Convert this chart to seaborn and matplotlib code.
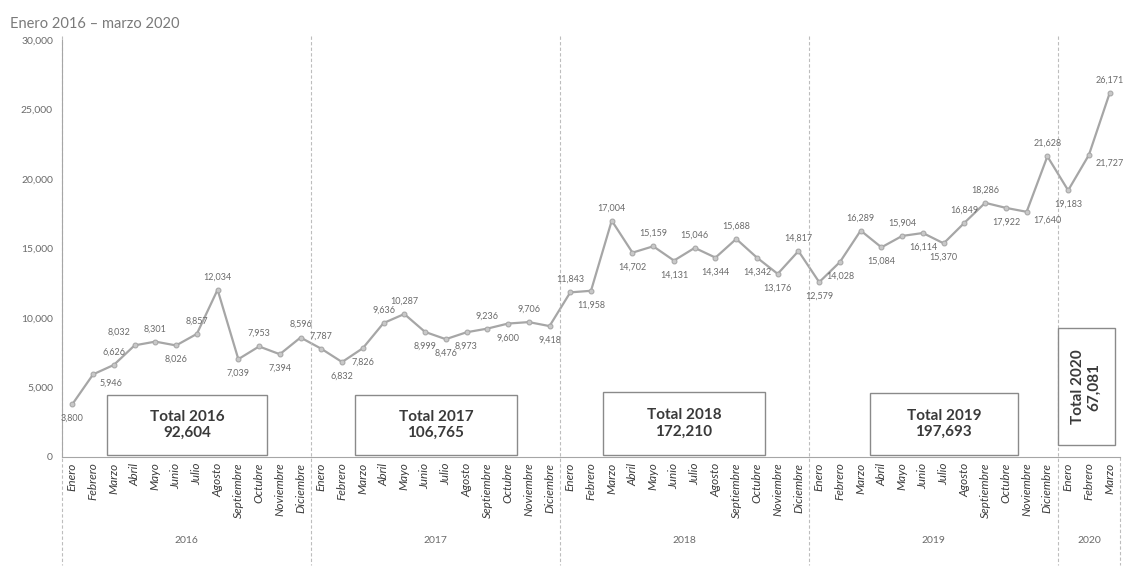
import matplotlib
matplotlib.use('Agg')
import matplotlib.pyplot as plt
import matplotlib.transforms as mtransforms
from matplotlib.patches import Rectangle
from matplotlib.ticker import FuncFormatter
import pandas as pd
import seaborn as sns

# Datos
years = ['2016', '2017', '2018', '2019', '2020']
months = ['Enero', 'Febrero', 'Marzo', 'Abril', 'Mayo', 'Junio', 'Julio',
          'Agosto', 'Septiembre', 'Octubre', 'Noviembre', 'Diciembre']
values_2016 = [3800, 5946, 6626, 8032, 8301, 8026, 8857, 12034, 7039, 7953, 7394, 8596]
values_2017 = [7787, 6832, 7826, 9636, 10287, 8999, 8476, 8973, 9236, 9600, 9706, 9418]
values_2018 = [11843, 11958, 17004, 14702, 15159, 14131, 15046, 14344, 15688, 14342, 13176, 14817]
values_2019 = [12579, 14028, 16289, 15084, 15904, 16114, 15370, 16849, 18286, 17922, 17640, 21628]
values_2020 = [19183, 21727, 26171]
totals = ['92,604', '106,765', '172,210', '197,693', '67,081']

# posicion de etiquetas: a = arriba, b = abajo, r = derecha, l = arriba izquierda
label_pos = ('bralabaababa' + 'abbaabbbabab' + 'abababababba' +
             'bbababbaabra' + 'bra')

series = [values_2016, values_2017, values_2018, values_2019, values_2020]
rows = []
for y, vals in zip(years, series):
    for m, v in zip(months, vals):
        rows.append({'year': y, 'month': m, 'value': v})
df = pd.DataFrame(rows)
df['idx'] = range(len(df))

sns.set_style('white')
plt.rcParams['font.family'] = ['Lato', 'DejaVu Sans']

GRAY = '#a6a6a6'
TXT = '#6b6b6b'
DARK = '#3a3a3a'

fig = plt.figure(figsize=(11.33, 5.67), dpi=100)
ax = fig.add_axes([62 / 1133, 110 / 567, 1058 / 1133, 417 / 567])

sns.lineplot(data=df, x='idx', y='value', ax=ax, color=GRAY, linewidth=1.6,
             marker='o', markersize=3.5, markeredgecolor=GRAY, markerfacecolor='#c8c8c8')

for i, row in df.iterrows():
    pos = label_pos[i]
    if pos == 'a':
        off, ha, va = (0, 6), 'center', 'bottom'
    elif pos == 'b':
        off, ha, va = (0, -7), 'center', 'top'
    elif pos == 'l':
        off, ha, va = (-3, 6), 'right', 'bottom'
    else:
        off, ha, va = (5, -3), 'left', 'top'
    ax.annotate(f"{row['value']:,}", (row['idx'], row['value']),
                xytext=off, textcoords='offset points',
                ha=ha, va=va, fontsize=6.5, color=TXT)

n = len(df)
ax.set_xlim(-0.5, n - 0.5)
ax.set_ylim(0, 30000)
ax.set_yticks(range(0, 30001, 5000))
ax.yaxis.set_major_formatter(FuncFormatter(lambda v, p: f'{int(v):,}'))
ax.tick_params(axis='y', labelsize=7.5, labelcolor=TXT, length=3, color=GRAY)
ax.set_xticks(df['idx'])
ax.set_xticklabels(df['month'], rotation=90, fontsize=8.5, style='italic',
                   color=DARK, va='top')
ax.tick_params(axis='x', length=0, pad=4)
ax.set_xticks([i + 0.5 for i in range(-1, n)], minor=True)
ax.tick_params(axis='x', which='minor', length=55, color='#d0d0d0', width=0.8)
ax.set_xlabel('')
ax.set_ylabel('')

for s in ['top', 'right']:
    ax.spines[s].set_visible(False)
for s in ['left', 'bottom']:
    ax.spines[s].set_color(GRAY)
    ax.spines[s].set_linewidth(0.8)

trans = mtransforms.blended_transform_factory(ax.transData, ax.transAxes)
start = 0
for k, (y, vals) in enumerate(zip(years, series)):
    end = start + len(vals)
    # separador de año
    xs = start - 0.5
    ax.plot([xs, xs], [1.01, -0.26], transform=trans, clip_on=False,
            color='#bdbdbd', linestyle=(0, (3, 2)), linewidth=0.8)
    ax.text((start + end - 1) / 2, -0.20, y, transform=trans, ha='center',
            va='center', fontsize=7.5, color=TXT)
    start = end
ax.plot([n - 0.5, n - 0.5], [0, -0.26], transform=trans, clip_on=False,
        color='#bdbdbd', linestyle=(0, (3, 2)), linewidth=0.8)

# cuadros de totales
boxes = [(1.67, 150, 9.38, 4460), (13.62, 150, 21.43, 4460),
         (25.57, 150, 33.38, 4680), (38.44, 150, 45.57, 4600),
         (47.5, 860, 50.25, 9280)]
for (x0, y0, x1, y1), y, tot in zip(boxes, years, totals):
    ax.add_patch(Rectangle((x0, y0), x1 - x0, y1 - y0, fill=True,
                           facecolor='white', edgecolor='#8a8a8a', linewidth=1.0,
                           zorder=3))
    rot = 90 if y == '2020' else 0
    ax.text((x0 + x1) / 2, (y0 + y1) / 2, f'Total {y}\n{tot}', ha='center',
            va='center', fontsize=11, fontweight='bold', color=DARK,
            rotation=rot, linespacing=1.2, zorder=4)

fig.text(10 / 1133, 1 - 28 / 567, 'Enero 2016 – marzo 2020', fontsize=10.5,
         color='#7a7a7a', ha='left', va='baseline')

fig.savefig('out.png', dpi=100)
